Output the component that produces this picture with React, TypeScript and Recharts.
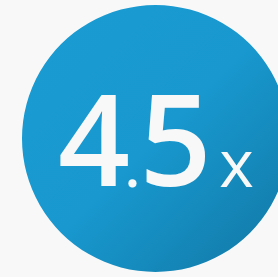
import React from "react";
import { PieChart, Pie, Cell, Label } from "recharts";

const categories = ["multiplier"];
const values = [4.5];
const unitLabels = ["x"];

const data = categories.map((name, i) => ({ name, value: values[i] }));

const W = 278;
const H = 277;
const CX = 155.5;
const CY = 138.5;
const R = 133.5;

const valueText = String(values[0]);
const [intPart, fracPart] = valueText.split(".");

const CenterLabel = (props: any) => {
  const vb = props.viewBox || {};
  const cx = vb.cx ?? CX;
  const cy = vb.cy ?? CY;
  const base = cy + 47.5;
  return (
    <g>
      <text
        y={base}
        fill="#f8f8f8"
        fontFamily="'Open Sans', sans-serif"
        fontWeight={600}
        textAnchor="middle"
      >
        <tspan x={cx - 61.5} y={base} fontSize={126}>
          {intPart}
        </tspan>
        <tspan x={cx - 23} y={base + 1} fontSize={56}>
          .
        </tspan>
        <tspan x={cx + 20} y={base} fontSize={126}>
          {fracPart}
        </tspan>
        <tspan x={cx + 81} y={base + 1} fontSize={66} fontWeight={500}>
          {unitLabels[0]}
        </tspan>
      </text>
    </g>
  );
};

export default function App() {
  return (
    <div
      style={{
        position: "absolute",
        left: 0,
        top: 0,
        width: W,
        height: H,
        background: "#f8f8f9",
        overflow: "hidden",
      }}
    >
      <PieChart width={W} height={H} margin={{ top: 0, right: 0, bottom: 0, left: 0 }}>
        <defs>
          <linearGradient id="circleGrad" x1="0" y1="0" x2="1" y2="1">
            <stop offset="0%" stopColor="#1a9cd3" />
            <stop offset="50%" stopColor="#1898cf" />
            <stop offset="100%" stopColor="#1177a3" />
          </linearGradient>
        </defs>
        <Pie
          data={data}
          dataKey="value"
          cx={CX}
          cy={CY}
          innerRadius={0}
          outerRadius={R}
          startAngle={90}
          endAngle={-270}
          stroke="none"
          isAnimationActive={false}
        >
          {data.map((d) => (
            <Cell key={d.name} fill="url(#circleGrad)" />
          ))}
          <Label position="center" content={CenterLabel} />
        </Pie>
      </PieChart>
    </div>
  );
}
